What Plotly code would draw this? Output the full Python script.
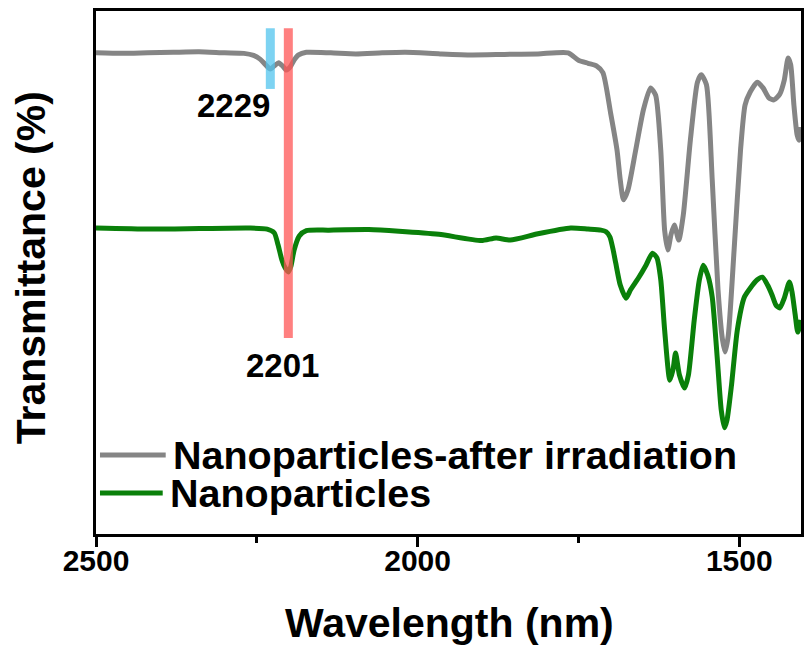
import plotly.graph_objects as go

# FTIR-style transmittance spectra (arbitrary offset, %)
wl_irradiated = [2500, 2460, 2420, 2380, 2340, 2300, 2270, 2255, 2245, 2237, 2229,
                 2222, 2216, 2210, 2204, 2198, 2192, 2185, 2173, 2135, 2096, 2055,
                 2019, 1965, 1916, 1865, 1813, 1766, 1750, 1735, 1722, 1712, 1700,
                 1690, 1685, 1680, 1673, 1661, 1649, 1638, 1630, 1622, 1616, 1611,
                 1606, 1601, 1594, 1587, 1576, 1565, 1559, 1551, 1542, 1533, 1526,
                 1522, 1517, 1508, 1498, 1491, 1483, 1472, 1463, 1454, 1446, 1437,
                 1430, 1424, 1420, 1415, 1410, 1407, 1404]
tr_irradiated = [92.0, 91.9, 92.0, 92.1, 92.2, 92.0, 91.9, 91.5, 90.8, 89.8, 88.9,
                 89.6, 90.1, 89.5, 88.7, 89.3, 90.6, 91.6, 92.1, 92.0, 91.8, 92.0,
                 92.1, 91.8, 91.6, 91.7, 91.8, 92.0, 90.6, 90.0, 89.5, 88.2, 80.5,
                 73.4, 67.7, 63.9, 65.8, 73.4, 81.1, 85.3, 83.9, 73.4, 58.1, 54.3,
                 57.3, 59.1, 56.2, 61.0, 75.3, 86.4, 87.8, 85.9, 67.7, 46.7, 37.1,
                 34.8, 38.0, 54.3, 73.4, 82.0, 84.5, 86.4, 85.3, 83.4, 83.0, 84.1,
                 86.8, 91.0, 89.7, 82.0, 76.3, 75.3, 77.8]

wl_pristine = [2500, 2416, 2339, 2262, 2234, 2223, 2217, 2211, 2206, 2201, 2197,
               2192, 2184, 2173, 2138, 2076, 2029, 1967, 1901, 1878, 1856, 1813,
               1762, 1735, 1715, 1707, 1701, 1696, 1692, 1685, 1676, 1669, 1657,
               1645, 1635, 1628, 1622, 1616, 1608, 1603, 1599, 1593, 1585, 1579,
               1570, 1562, 1556, 1549, 1542, 1534, 1528, 1523, 1519, 1512, 1503,
               1492, 1483, 1472, 1464, 1456, 1449, 1443, 1437, 1430, 1422, 1418,
               1413, 1409, 1404]
tr_pristine = [58.5, 58.3, 58.4, 58.5, 58.3, 57.6, 55.3, 52.4, 50.9, 50.1, 51.2,
               54.3, 57.0, 58.0, 58.1, 58.2, 57.9, 57.3, 56.1, 56.6, 56.2, 57.4,
               58.5, 58.3, 58.1, 57.8, 56.8, 54.3, 51.8, 47.6, 45.1, 46.7, 48.9,
               51.4, 53.7, 52.8, 48.6, 39.0, 29.4, 31.4, 34.6, 30.4, 27.9, 30.4,
               40.9, 48.6, 51.4, 49.5, 45.3, 33.3, 23.7, 20.3, 21.8, 28.5, 39.0,
               45.3, 47.0, 48.6, 49.1, 47.6, 45.7, 43.8, 43.2, 45.1, 48.2, 46.3,
               41.9, 38.6, 40.9]

series_names = ["Nanoparticles-after irradiation", "Nanoparticles"]
series_colors = ["#858585", "#0a800a"]

# marked bands: wavenumber, top and bottom of the marker, label
band_positions = [2229, 2201]
band_tops = [96.7, 96.7]
band_bottoms = [85.1, 37.5]
band_labels = ["2229", "2201"]
band_colors = ["rgba(82,196,238,0.75)", "rgba(255,86,86,0.75)"]

x_ticks = [2500, 2000, 1500]
x_minor_ticks = [2250, 1750]
x_range = [2500, 1404]
y_range = [0, 100]

FONT = "Liberation Sans, Arial, sans-serif"

fig = go.Figure()
fig.add_trace(go.Scatter(x=wl_irradiated, y=tr_irradiated, mode="lines",
                         name=series_names[0],
                         line=dict(color=series_colors[0], width=5,
                                   shape="spline", smoothing=0.6),
                         showlegend=False))
fig.add_trace(go.Scatter(x=wl_pristine, y=tr_pristine, mode="lines",
                         name=series_names[1],
                         line=dict(color=series_colors[1], width=5,
                                   shape="spline", smoothing=0.6),
                         showlegend=False))

# vertical marker bars over the nitrile peaks
for pos, top, bot, col in zip(band_positions, band_tops, band_bottoms, band_colors):
    fig.add_shape(type="line", xref="x", yref="y", x0=pos, x1=pos, y0=bot, y1=top,
                  line=dict(color=col, width=9), layer="above")

# peak labels
fig.add_annotation(x=band_positions[0], y=band_bottoms[0], xref="x", yref="y",
                   text=band_labels[0], showarrow=False, xanchor="center",
                   yanchor="top", xshift=-37, yshift=4,
                   font=dict(family=FONT, size=33, color="black", weight="bold"))
fig.add_annotation(x=band_positions[1], y=band_bottoms[1], xref="x", yref="y",
                   text=band_labels[1], showarrow=False, xanchor="center",
                   yanchor="top", xshift=-6, yshift=-7,
                   font=dict(family=FONT, size=33, color="black", weight="bold"))

# legend drawn as line samples + text in the lower-left corner
L, T, W, H = 96, 11, 708, 523
def px_x(p):
    return (p - L) / W
def px_y(p):
    return (T + H - p) / H

legend_rows = [455, 493]
legend_line_ends = [166, 163]
for name, col, row, end in zip(series_names, series_colors, legend_rows, legend_line_ends):
    fig.add_shape(type="line", xref="paper", yref="paper",
                  x0=px_x(100), x1=px_x(end), y0=px_y(row), y1=px_y(row),
                  line=dict(color=col, width=5))
    fig.add_annotation(x=px_x(end + 5), y=px_y(row), xref="paper", yref="paper",
                       text=name, showarrow=False, xanchor="left", yanchor="middle",
                       font=dict(family=FONT, size=39.5, color="black", weight="bold"))

# axis titles
fig.add_annotation(x=px_x(451), y=px_y(623), xref="paper", yref="paper",
                   text="Wavelength (nm)", showarrow=False, xanchor="center",
                   yanchor="middle",
                   font=dict(family=FONT, size=41, color="black", weight="bold"))
fig.add_annotation(x=px_x(31), y=px_y(268), xref="paper", yref="paper",
                   text="Transmittance (%)", showarrow=False, textangle=-90,
                   xanchor="center", yanchor="middle",
                   font=dict(family=FONT, size=41, color="black", weight="bold"))

fig.update_layout(
    width=806, height=649,
    margin=dict(l=L, r=806 - L - W, t=T, b=649 - T - H, pad=0),
    paper_bgcolor="white", plot_bgcolor="white",
    showlegend=False,
)
fig.update_xaxes(range=x_range, tickvals=x_ticks, ticktext=[str(v) for v in x_ticks],
                 ticks="outside", ticklen=10, tickwidth=3, tickcolor="black",
                 ticklabelstandoff=-12,
                 minor=dict(tickvals=x_minor_ticks, ticks="outside", ticklen=6,
                            tickwidth=3, tickcolor="black"),
                 showline=True, linewidth=3, linecolor="black", mirror=True,
                 showgrid=False, zeroline=False,
                 tickfont=dict(family=FONT, size=30, color="black", weight="bold"))
fig.update_yaxes(range=y_range, showticklabels=False, ticks="",
                 showline=True, linewidth=3, linecolor="black", mirror=True,
                 showgrid=False, zeroline=False)

fig.write_html("out.html")
